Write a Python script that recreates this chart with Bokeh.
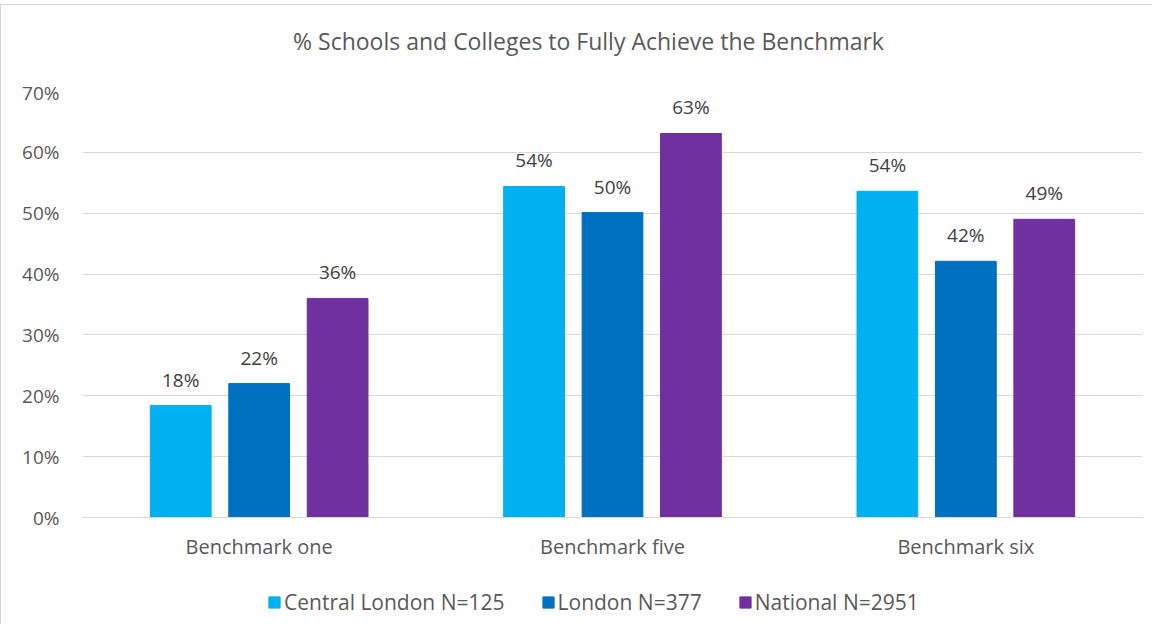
from bokeh.plotting import figure
from bokeh.layouts import column
from bokeh.models import ColumnDataSource, FactorRange, Legend, LegendItem, FixedTicker, CustomJSTickFormatter, Range1d, Label
from bokeh.transform import dodge
from bokeh.core.properties import value
from bokeh.embed import file_html
from bokeh.resources import INLINE

groups = ["Benchmark one", "Benchmark five", "Benchmark six"]
series = ["Central London N=125", "London N=377", "National N=2951"]
central_london = [18.4, 54.4, 53.6]
london = [22.0, 50.1, 42.1]
national = [36.0, 63.1, 49.0]
colors = ["#00B0F0", "#0070C0", "#7030A0"]
y_ticks = [0, 10, 20, 30, 40, 50, 60, 70]
title_text = "% Schools and Colleges to Fully Achieve the Benchmark"

FONT = "Open Sans"
GREY = "#595959"

data = {"group": groups, "cl": central_london, "lo": london, "na": national}
for k in ["cl", "lo", "na"]:
    data[k + "_lab"] = ["%d%%" % round(v) for v in data[k]]
src = ColumnDataSource(data)

# title strip
top = figure(width=1151, height=74, output_backend="svg", toolbar_location=None,
             min_border=0, x_range=(0, 1), y_range=(0, 1))
top.axis.visible = False
top.grid.grid_line_color = None
top.outline_line_color = None
top.add_layout(Label(x=506, y=39, x_units="screen", y_units="screen", text=title_text,
                     text_align="center", text_baseline="middle", text_font=FONT,
                     text_font_size="23px", text_color=GREY))

p = figure(x_range=FactorRange(factors=groups, range_padding=0), y_range=Range1d(0, 70),
           width=1151, height=496, output_backend="svg", toolbar_location=None,
           min_border_left=81, min_border_right=10, min_border_top=12, min_border_bottom=58)
p.outline_line_color = None
p.background_fill_color = "white"

offsets = [-0.222, 0.0, 0.222]
keys = ["cl", "lo", "na"]
for key, off, col in zip(keys, offsets, colors):
    p.vbar(x=dodge("group", off, range=p.x_range), top=key, width=0.172, bottom=0,
           source=src, fill_color=col, line_color=col)
    p.text(x=dodge("group", off, range=p.x_range), y=key, text=key + "_lab", source=src,
           text_align="center", text_baseline="bottom", y_offset=-13,
           text_font=value(FONT), text_font_size="19px", text_color="#404040")

p.yaxis.ticker = FixedTicker(ticks=y_ticks)
p.yaxis.formatter = CustomJSTickFormatter(code="return tick + '%';")
p.yaxis.axis_line_color = None
p.yaxis.major_tick_line_color = None
p.yaxis.minor_tick_line_color = None
p.yaxis.major_label_text_font = FONT
p.yaxis.major_label_text_font_size = "19px"
p.yaxis.major_label_text_color = GREY
p.yaxis.major_label_standoff = 17

p.xaxis.axis_line_color = "#D9D9D9"
p.xaxis.major_tick_line_color = None
p.xaxis.minor_tick_line_color = None
p.xaxis.major_label_text_font = FONT
p.xaxis.major_label_text_font_size = "20px"
p.xaxis.major_label_text_color = GREY
p.xaxis.major_label_standoff = 9

p.xgrid.grid_line_color = None
p.ygrid.grid_line_color = "#D9D9D9"
p.ygrid.grid_line_width = 1

# legend strip
lg = figure(width=1151, height=49, output_backend="svg", toolbar_location=None,
            min_border=0, x_range=(0, 1), y_range=(0, 1))
lg.axis.visible = False
lg.grid.grid_line_color = None
lg.outline_line_color = None
items = []
for col, name in zip(colors, series):
    r = lg.rect(x=[-5], y=[-5], width=0.1, height=0.1, fill_color=col, line_color=col)
    items.append(LegendItem(label=name, renderers=[r]))
legend = Legend(items=items, orientation="horizontal", location=(185, 8),
                label_text_font=FONT, label_text_font_size="21px", label_text_color=GREY,
                glyph_width=14, glyph_height=14, spacing=36, label_standoff=3,
                border_line_color=None, background_fill_alpha=0, margin=0, padding=0)
lg.add_layout(legend)

layout = column(top, p, lg, spacing=0)
layout.styles = {"border-top": "1px solid #D9D9D9", "border-left": "1px solid #D9D9D9",
                 "margin-top": "4px"}

open("out.html", "w").write(file_html(layout, INLINE))
